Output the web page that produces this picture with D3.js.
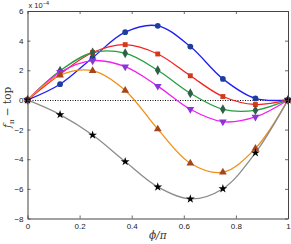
<!DOCTYPE html>
<html>
<head>
<meta charset="utf-8">
<script src="https://cdn.jsdelivr.net/npm/d3@7"></script>
<style>
  body { margin: 0; background: #fff; }
  svg { display: block; }
  .tick text { font-family: "Liberation Sans", Arial, sans-serif; font-size: 8px; fill: #222; }
</style>
</head>
<body>
<div id="chart"></div>
<script>
// phi/pi sample positions
const phi = [0, 0.125, 0.25, 0.375, 0.5, 0.625, 0.75, 0.875, 1];

// values in units of 1e-4
const blueVals    = [0, 1.06, 2.85, 4.57, 5.0, 3.6, 1.42, 0.1, 0];
const redVals     = [0, 1.74, 3.2, 3.73, 3.1, 1.63, 0.23, -0.31, 0];
const greenVals   = [0, 1.97, 3.2, 3.15, 2.0, 0.45, -0.63, -0.7, 0];
const magentaVals = [0, 1.86, 2.65, 2.24, 0.93, -0.63, -1.47, -1.15, 0];
const orangeVals  = [0, 1.67, 1.97, 0.64, -1.97, -4.27, -4.88, -3.27, 0];
const grayVals    = [0, -0.99, -2.37, -4.16, -5.87, -6.68, -5.99, -3.57, 0];

const xTicks = [0, 0.2, 0.4, 0.6, 0.8, 1];
const yTicks = [-8, -6, -4, -2, 0, 2, 4, 6];

const series = [
    { vals: blueVals,    line: '#1f1ff5', mark: '#1c3f9c', shape: d3.symbolCircle,   size: 26 },
    { vals: redVals,     line: '#f52020', mark: '#d23a1c', shape: d3.symbolSquare,   size: 24 },
    { vals: greenVals,   line: '#22a040', mark: '#2f5f48', shape: d3.symbolDiamond,  size: 28 },
    { vals: magentaVals, line: '#f020f0', mark: '#8a35d8', shape: 'down',            size: 26 },
    { vals: orangeVals,  line: '#f0901a', mark: '#a4451a', shape: d3.symbolTriangle, size: 26 },
    { vals: grayVals,    line: '#8c8c8c', mark: '#000000', shape: d3.symbolStar,     size: 24 }
];

const width = 291, height = 244;
const margin = { left: 27.5, right: 3, top: 11, bottom: 25.5 };

const svg = d3.select('#chart').append('svg')
    .attr('width', width)
    .attr('height', height);

const x = d3.scaleLinear().domain([0, 1]).range([margin.left, width - margin.right]);
const y = d3.scaleLinear().domain([-8, 6]).range([height - margin.bottom, margin.top]);

// zero reference line (dotted)
svg.append('line')
    .attr('x1', x(0)).attr('x2', x(1))
    .attr('y1', Math.round(y(0)) + 0.5).attr('y2', Math.round(y(0)) + 0.5)
    .attr('stroke', '#111')
    .attr('stroke-width', 1)
    .attr('stroke-dasharray', '1,1.5');

const line = d3.line()
    .x((d, i) => x(phi[i]))
    .y(d => y(d))
    .curve(d3.curveCatmullRom.alpha(0.5));

const g = svg.append('g');

series.forEach(s => {
    g.append('path')
        .datum(s.vals)
        .attr('fill', 'none')
        .attr('stroke', s.line)
        .attr('stroke-width', 1.3)
        .attr('d', line);
});

series.forEach(s => {
    const sym = s.shape === 'down'
        ? d3.symbol().type(d3.symbolTriangle).size(s.size)
        : d3.symbol().type(s.shape).size(s.size);
    g.selectAll(null)
        .data(s.vals)
        .enter()
        .append('path')
        .attr('d', sym)
        .attr('transform', (d, i) => `translate(${x(phi[i])},${y(d)})` + (s.shape === 'down' ? ' rotate(180)' : ''))
        .attr('fill', s.mark);
});

// axes with inward ticks, full box
const axisColor = '#444';
const xAxis = svg.append('g')
    .attr('transform', `translate(0,${y(-8)})`)
    .call(d3.axisBottom(x).tickValues(xTicks).tickSizeInner(-3).tickSizeOuter(0).tickPadding(5).tickFormat(d3.format('')));
const yAxis = svg.append('g')
    .attr('transform', `translate(${x(0)},0)`)
    .call(d3.axisLeft(y).tickValues(yTicks).tickSizeInner(-3).tickSizeOuter(0).tickPadding(4));
const xTop = svg.append('g')
    .attr('transform', `translate(0,${y(6)})`)
    .call(d3.axisTop(x).tickValues(xTicks).tickSizeInner(-3).tickSizeOuter(0).tickFormat(''));
const yRight = svg.append('g')
    .attr('transform', `translate(${x(1)},0)`)
    .call(d3.axisRight(y).tickValues(yTicks).tickSizeInner(-3).tickSizeOuter(0).tickFormat(''));

[xAxis, yAxis, xTop, yRight].forEach(a => {
    a.select('.domain').attr('stroke', axisColor).attr('stroke-width', 1);
    a.selectAll('.tick line').attr('stroke', axisColor).attr('stroke-width', 0.8);
});

// exponent label
const expo = svg.append('text')
    .attr('x', x(0) + 1)
    .attr('y', 8)
    .attr('font-family', '"Liberation Sans", Arial, sans-serif')
    .attr('font-size', 7.5)
    .attr('fill', '#222');
expo.append('tspan').text('x 10');
expo.append('tspan').attr('dy', -3).attr('font-size', 5.5).text('−4');

// axis labels
svg.append('text')
    .attr('x', (x(0) + x(1)) / 2)
    .attr('y', 239)
    .attr('text-anchor', 'middle')
    .attr('font-family', '"DejaVu Serif", "Liberation Serif", serif')
    .attr('font-style', 'italic')
    .attr('font-size', 10.5)
    .attr('fill', '#333')
    .text('ϕ/π');

const yl = svg.append('text')
    .attr('transform', `translate(11,${y(-0.5)}) rotate(-90)`)
    .attr('text-anchor', 'middle')
    .attr('font-family', '"DejaVu Serif", "Liberation Serif", serif')
    .attr('font-size', 10.5)
    .attr('fill', '#333');
yl.append('tspan').attr('font-style', 'italic').text('f');
yl.append('tspan').attr('dy', 2.5).attr('font-size', 7).text('π');
yl.append('tspan').attr('dy', -2.5).text(' − top');
</script>
</body>
</html>
